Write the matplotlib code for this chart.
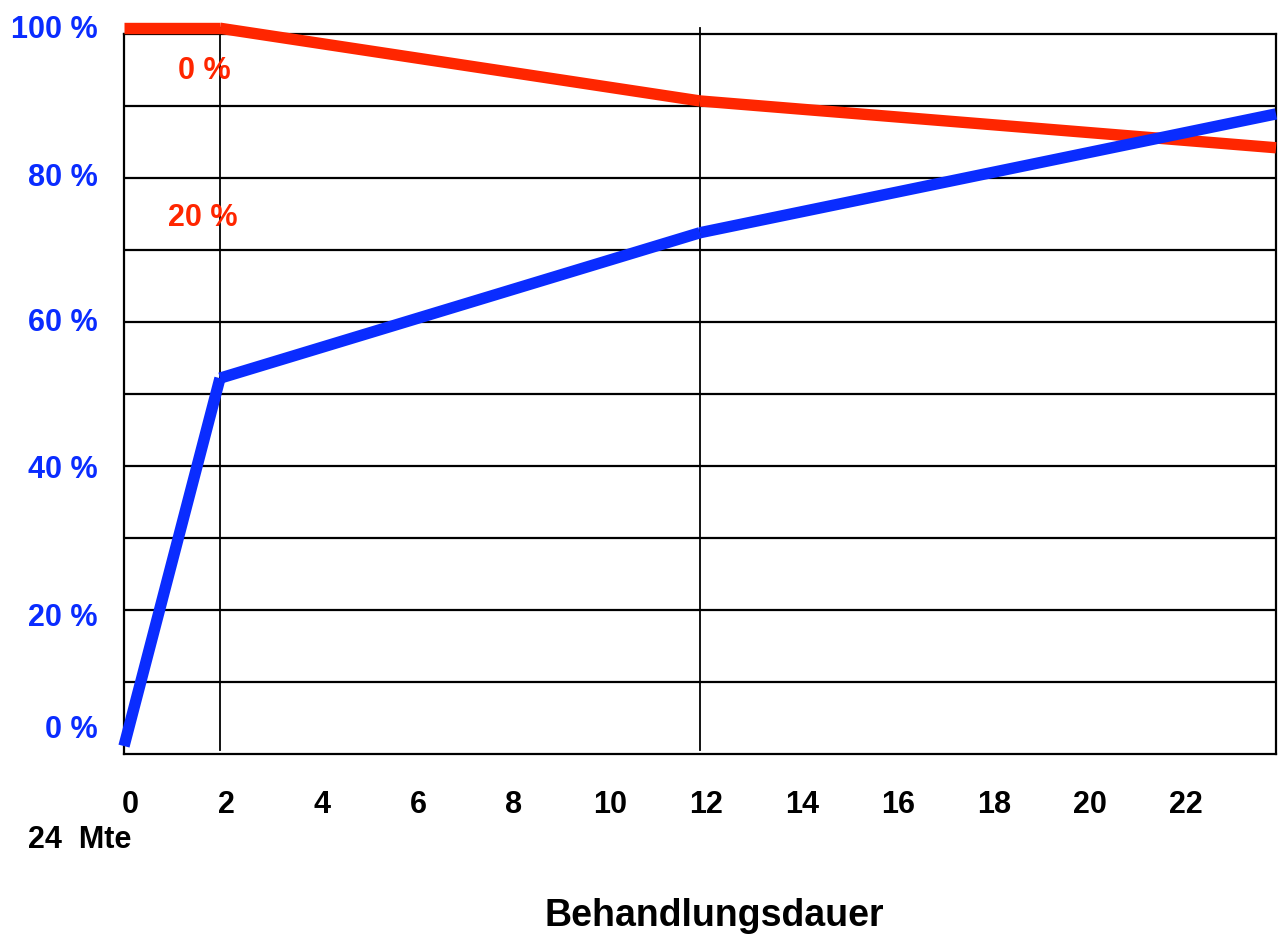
import matplotlib
matplotlib.use("Agg")
from matplotlib import pyplot as plt
import matplotlib.transforms as mtransforms
import numpy as np

plt.rcParams['font.family'] = ['Liberation Sans', 'DejaVu Sans']

# Behandlungsdauer in Monaten
monate = [0, 2, 12, 24]
blau = [1.1, 52.2, 72.4, 88.9]
rot = [100.8, 100.8, 90.7, 84.2]

x_ticks = list(range(0, 24, 2))
y_labels = ['100 %', '80 %', '60 %', '40 %', '20 %', '0 %']
y_label_pos = [100.6, 80.0, 59.9, 39.4, 18.9, 3.3]

BLUE = '#0a2cff'
RED = '#ff2600'
FS = 22

fig = plt.figure(figsize=(12.78, 9.34), dpi=100)
ax = fig.add_axes([124 / 1278, 180 / 934, 1152 / 1278, 720 / 934])
ax.set_xlim(0, 24)
ax.set_ylim(0, 100)

# gitter
for yy in np.arange(10, 100, 10):
    ax.axhline(yy, color='black', lw=1.6, zorder=1)
for xx in [2, 12]:
    ax.plot([xx, xx], [0.5, 100.8], color='black', lw=1.3, clip_on=False, zorder=1)

for sp in ax.spines.values():
    sp.set_linewidth(1.6)

# linien als einzelne segmente
for i in range(len(monate) - 1):
    ax.plot(monate[i:i + 2], rot[i:i + 2], color=RED, lw=8.2, solid_capstyle='butt',
            clip_on=False, zorder=3)
    ax.plot(monate[i:i + 2], blau[i:i + 2], color=BLUE, lw=8.2, solid_capstyle='butt',
            clip_on=False, zorder=3)

ax.set_xticks(x_ticks)
ax.set_xticklabels([str(t) for t in x_ticks], fontsize=FS, fontweight='bold')
ax.tick_params(axis='x', length=0, pad=26)
shift = mtransforms.ScaledTranslation(6 / 100, 0, fig.dpi_scale_trans)
for lab in ax.get_xticklabels():
    lab.set_transform(lab.get_transform() + shift)
ax.set_yticks([])

for lab, yp in zip(y_labels, y_label_pos):
    ax.text(-0.55, yp, lab, color=BLUE, fontsize=FS, fontweight='bold',
            ha='right', va='center', clip_on=False)

ax.text(1.67, 94.8, '0 %', color=RED, fontsize=FS, fontweight='bold', ha='center', va='center')
ax.text(1.65, 74.5, '20 %', color=RED, fontsize=FS, fontweight='bold', ha='center', va='center')

fig.text(28 / 1278, 1 - 840 / 934, '24  Mte', fontsize=FS, fontweight='bold', ha='left', va='center')
fig.text(714 / 1278, 1 - 916 / 934, 'Behandlungsdauer', fontsize=27, fontweight='bold',
         ha='center', va='center')

fig.savefig('out.png', dpi=100)
